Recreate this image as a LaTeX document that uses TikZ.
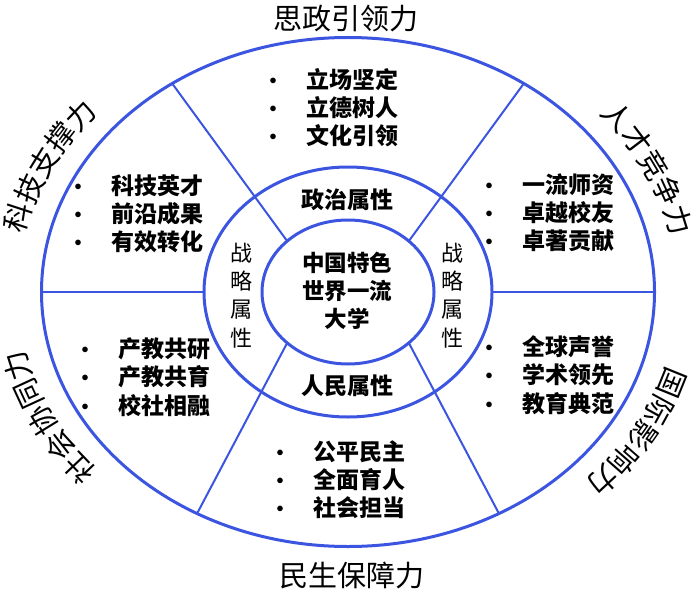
\documentclass[tikz,border=0pt]{standalone}
\usepackage{fontspec}
\setmainfont{Noto Sans CJK SC}
\usetikzlibrary{calc,decorations.text}
\definecolor{ringblue}{RGB}{60,85,225}
\newcommand{\fsz}[2]{\fontsize{#1}{#2}\selectfont}
\newcommand{\blt}{\makebox[0pt]{\fsz{20}{20}•}\hspace{33.5pt}}
\begin{document}
\begin{tikzpicture}[x=1pt,y=-1pt,
  ring/.style={draw=ringblue, line width=3pt},
  spoke/.style={draw=ringblue, line width=2pt},
  outlabel/.style={inner sep=0, font=\fsz{29}{34}},
  curvedlabel/.style={decorate, decoration={text along path, text align=center, text={|\fsz{29}{34}|#1}}},
  itemlist/.style={inner sep=0, anchor=west, font=\fsz{23}{27.5}\bfseries},
  attr/.style={inner sep=0, font=\fsz{23}{27.5}\bfseries},
  vattr/.style={inner sep=0, font=\fsz{22}{28.3}},
]
\useasboundingbox[fill=white] (0,0) rectangle (700,596);
\coordinate (c) at (348,292);
% rings
\draw[ring] (c) ellipse [x radius=306.5, y radius=254.5];
\draw[ring] (c) ellipse [x radius=144, y radius=125];
\draw[ring] (c) ellipse [x radius=86, y radius=72];
% spoke end points
\coordinate (oUL) at ($(c)+(-125:306.5 and 254.5)$);
\coordinate (iUL) at ($(c)+(-135:86 and 72)$);
\coordinate (oUR) at ($(c)+(-55:306.5 and 254.5)$);
\coordinate (iUR) at ($(c)+(-45:86 and 72)$);
\coordinate (oLL) at ($(c)+(119.5:306.5 and 254.5)$);
\coordinate (iLL) at ($(c)+(135:86 and 72)$);
\coordinate (oLR) at ($(c)+(60.5:306.5 and 254.5)$);
\coordinate (iLR) at ($(c)+(45:86 and 72)$);
\coordinate (oL) at ($(c)+(180:306.5 and 254.5)$);
\coordinate (mL) at ($(c)+(180:144 and 125)$);
\coordinate (oR) at ($(c)+(0:306.5 and 254.5)$);
\coordinate (mR) at ($(c)+(0:144 and 125)$);
\draw[spoke] (oUL) -- (iUL);
\draw[spoke] (oUR) -- (iUR);
\draw[spoke] (oLL) -- (iLL);
\draw[spoke] (oLR) -- (iLR);
\draw[spoke] (oL) -- (mL);
\draw[spoke] (oR) -- (mR);
% outer labels
\node[outlabel] (tTop) at (346,19) {思政引领力};
\node[outlabel] (tBot) at (352,575) {民生保障力};
\coordinate (sUL) at ($(c)+(-175:331 and 273)$);
\coordinate (sUR) at ($(c)+(-47:331 and 273)$);
\coordinate (sLL) at ($(c)+(132.5:331 and 273)$);
\coordinate (sLR) at ($(c)+(8:331 and 273)$);
\path[curvedlabel=科技支撑力] (sUL) arc[start angle=-175, end angle=-132.4, x radius=331, y radius=273];
\path[curvedlabel=人才竞争力] (sUR) arc[start angle=-47, end angle=-4.6, x radius=331, y radius=273];
\path[curvedlabel=社会协同力] (sLL) arc[start angle=132.5, end angle=175.3, x radius=331, y radius=273];
\path[curvedlabel=国际影响力] (sLR) arc[start angle=8, end angle=51, x radius=331, y radius=273];
% item lists
\node[itemlist] (lTop) at (273,110.5) {\begin{tabular}{@{}l@{}}\blt 立场坚定\\ \blt 立德树人\\ \blt 文化引领\end{tabular}};
\node[itemlist] (lUL) at (78,217) {\begin{tabular}{@{}l@{}}\blt 科技英才\\ \blt 前沿成果\\ \blt 有效转化\end{tabular}};
\node[itemlist] (lUR) at (489,216) {\begin{tabular}{@{}l@{}}\blt 一流师资\\ \blt 卓越校友\\ \blt 卓著贡献\end{tabular}};
\node[itemlist] (lLL) at (85,380) {\begin{tabular}{@{}l@{}}\blt 产教共研\\ \blt 产教共育\\ \blt 校社相融\end{tabular}};
\node[itemlist] (lLR) at (489,378) {\begin{tabular}{@{}l@{}}\blt 全球声誉\\ \blt 学术领先\\ \blt 教育典范\end{tabular}};
\node[itemlist] (lBot) at (280,483) {\begin{tabular}{@{}l@{}}\blt 公平民主\\ \blt 全面育人\\ \blt 社会担当\end{tabular}};
% attributes
\node[attr] (aPol) at (347.5,200) {政治属性};
\node[attr] (aPeo) at (347,386) {人民属性};
\node[vattr] (aL) at (241,298) {\begin{tabular}{@{}c@{}}战\\略\\属\\性\end{tabular}};
\node[vattr] (aR) at (452,298) {\begin{tabular}{@{}c@{}}战\\略\\属\\性\end{tabular}};
% centre
\node[attr, font=\fsz{22.5}{27.5}\bfseries] (core) at (347,294) {\begin{tabular}{@{}c@{}}中国特色\\世界一流\\大学\end{tabular}};
\end{tikzpicture}
\end{document}
